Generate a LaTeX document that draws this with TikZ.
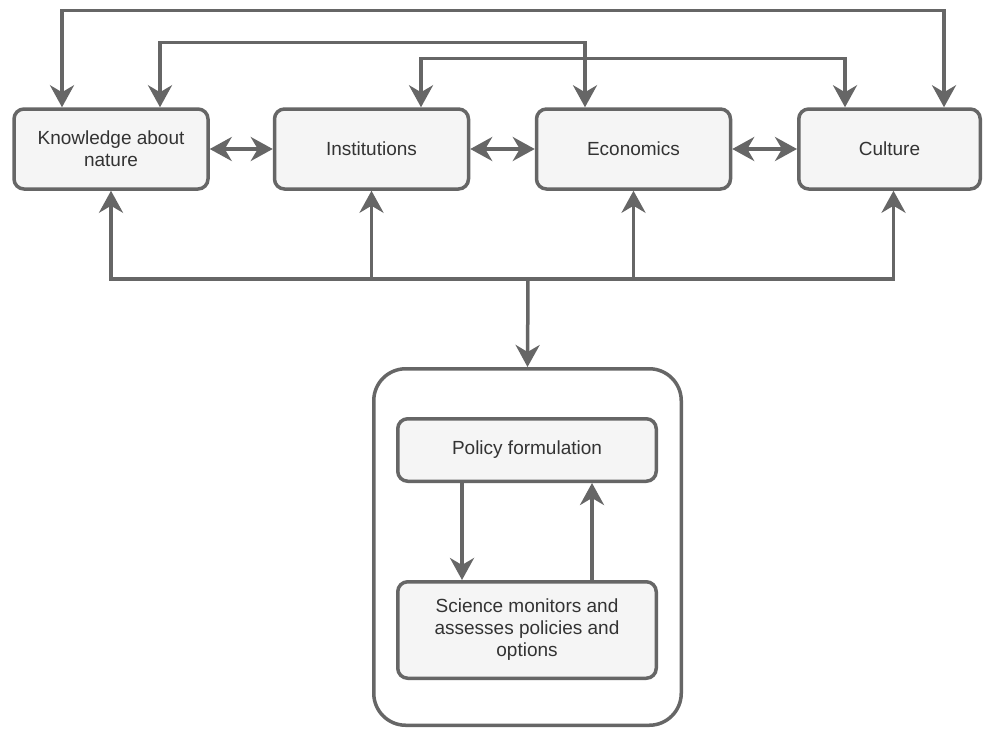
\documentclass[tikz,border=0pt]{standalone}
\usepackage{fontspec}
\setmainfont{Liberation Sans}
\usetikzlibrary{arrows.meta}
\definecolor{edgegray}{HTML}{666666}
\definecolor{boxfill}{HTML}{F5F5F5}
\definecolor{textgray}{HTML}{333333}

\begin{document}
\begin{tikzpicture}[x=1pt, y=-1pt,
  >={Stealth[length=22pt, width=24pt, inset=7pt]},
  box/.style={draw=edgegray, line width=3.5pt, fill=boxfill, rounded corners=10pt,
    text=textgray, font=\fontsize{19}{22}\selectfont, align=center, inner sep=0pt,
    minimum width=194pt, minimum height=80pt},
  frame/.style={draw=edgegray, line width=3.5pt, fill=white, rounded corners=32pt,
    minimum width=307.5pt, minimum height=356.5pt},
  wire/.style={draw=edgegray, line width=3.5pt}]
  \useasboundingbox (0,0) rectangle (984,728);

  % Top row: the four domains
  \node[box] (know) at (111, 149) {Knowledge about\\nature};
  \node[box] (inst) at (371.5, 149) {Institutions};
  \node[box] (econ) at (633.5, 149) {Economics};
  \node[box, minimum width=181.5pt] (cult) at (889.5, 149) {Culture};

  % Bottom: the policy loop in its frame
  \node[frame] (outer) at (527.5, 547) {};
  \node[box, minimum width=258.5pt, minimum height=62.5pt] (policy) at (527, 450) {Policy formulation};
  \node[box, minimum width=258.5pt, minimum height=96.5pt] (science) at (527, 630) {Science monitors and\\assesses policies and\\options};

  % Links over the top
  \draw[wire, <->] ([xshift=-49pt]know.north) -- ++(0,-97) -| ([xshift=54.5pt]cult.north);
  \draw[wire, <->] ([xshift=49pt]know.north) -- ++(0,-65) -| ([xshift=-48.5pt]econ.north);
  \draw[wire, <->] ([xshift=49.5pt]inst.north) -- ++(0,-49) -| ([xshift=-44.5pt]cult.north);

  % Neighbours
  \draw[wire, <->] (know.east) -- (inst.west);
  \draw[wire, <->] (inst.east) -- (econ.west);
  \draw[wire, <->] (econ.east) -- (cult.west);

  % Bus under the row
  \coordinate (bus) at (528, 279);
  \draw[wire, ->] (bus) -| (know.south);
  \draw[wire, ->] (bus) -| (inst.south);
  \draw[wire, ->] (bus) -| (econ.south);
  \draw[wire, ->] (bus) -| ([xshift=4pt]cult.south);
  \draw[wire, ->] (bus) -- (outer.north);

  % Loop inside the frame
  \draw[wire, ->] ([xshift=-65pt]policy.south) -- ([xshift=-65pt]science.north);
  \draw[wire, ->] ([xshift=65pt]science.north) -- ([xshift=65pt]policy.south);
\end{tikzpicture}
\end{document}
